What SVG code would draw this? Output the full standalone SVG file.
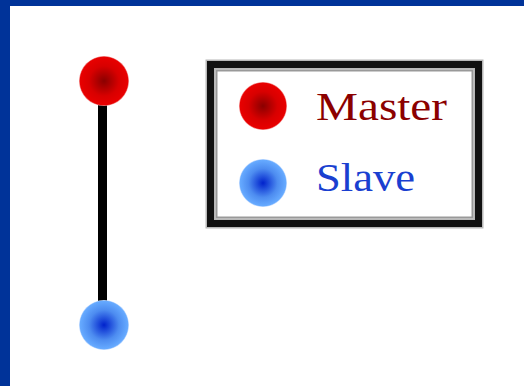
<svg xmlns="http://www.w3.org/2000/svg" width="524" height="386" viewBox="0 0 524 386">
<defs>
<radialGradient id="gRed" cx="0.5" cy="0.5" r="0.5">
<stop offset="0" stop-color="#8a0000"/>
<stop offset="0.6" stop-color="#d80000"/>
<stop offset="0.95" stop-color="#e80000"/>
<stop offset="1" stop-color="#f5a0a0"/>
</radialGradient>
<radialGradient id="gBlue" cx="0.5" cy="0.5" r="0.5">
<stop offset="0" stop-color="#0022cc"/>
<stop offset="0.6" stop-color="#4d8cf0"/>
<stop offset="0.95" stop-color="#66aaff"/>
<stop offset="1" stop-color="#cfe2ff"/>
</radialGradient>
<style>
.lbl{font-family:"Liberation Serif","DejaVu Serif",serif;font-size:40px;}
</style>
</defs>
<rect x="0" y="0" width="524" height="386" fill="#ffffff"/>
<rect x="0" y="0" width="524" height="6" fill="#003399"/>
<rect x="0" y="0" width="10" height="386" fill="#003399"/>
<g id="connectors">
<line x1="102.5" y1="100" x2="102.5" y2="305" stroke="#000" stroke-width="9"/>
</g>
<g id="master">
<circle cx="104" cy="81" r="25" fill="url(#gRed)"/>
</g>
<g id="slave">
<circle cx="104" cy="325" r="25" fill="url(#gBlue)"/>
</g>
<g id="legend">
<rect x="210.5" y="64.5" width="268" height="159" fill="#fff" stroke="#b8b8b8" stroke-width="10"/>
<rect x="210.5" y="64.5" width="268" height="159" fill="none" stroke="#111" stroke-width="7"/>
<rect x="216.5" y="70.5" width="256" height="147" fill="none" stroke="#999" stroke-width="2"/>
<circle cx="263" cy="106" r="24" fill="url(#gRed)"/>
<circle cx="263" cy="183" r="24" fill="url(#gBlue)"/>
<text class="lbl" x="316" y="120" fill="#8b0000" textLength="131" lengthAdjust="spacingAndGlyphs">Master</text>
<text class="lbl" x="316" y="191" fill="#1a3fd0" textLength="99" lengthAdjust="spacingAndGlyphs">Slave</text>
</g>
</svg>
